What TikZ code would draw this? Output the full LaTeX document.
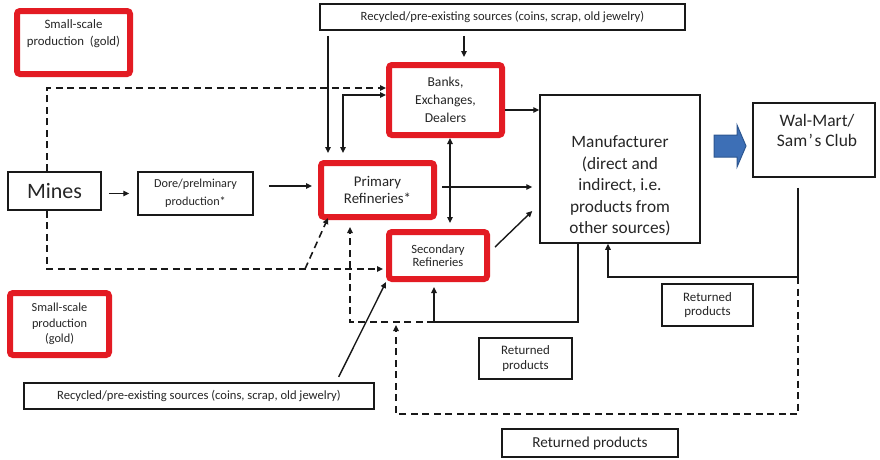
\documentclass[tikz,border=0pt]{standalone}
\usepackage{fontspec}
\setmainfont{Carlito}
\usetikzlibrary{arrows.meta,calc}
\definecolor{myred}{HTML}{E31B23}
\definecolor{txt}{HTML}{262626}
\definecolor{bluefill}{HTML}{3D6FB6}
\definecolor{blueline}{HTML}{2C5690}
\begin{document}
\begin{tikzpicture}[x=1pt,y=-1pt,
 redbox/.style={draw=myred, line width=6pt, rounded corners=3pt, fill=white, text=txt, align=center, inner sep=0pt},
 blkbox/.style={draw=black!90, line width=1.5pt, fill=white, text=txt, align=center, inner sep=0pt},
 arr/.style={-{Triangle[length=6pt,width=5.5pt]}, line width=1.4pt, draw=black!90},
 dbl/.style={{Triangle[length=6pt,width=5.5pt]}-{Triangle[length=6pt,width=5.5pt]}, line width=1.4pt, draw=black!90},
 dashln/.style={dash pattern=on 7pt off 4.5pt, line width=1.6pt, draw=black!90},
 fs/.style={font=\fontsize{12.6}{14}\selectfont},
]
\useasboundingbox (0,0) rectangle (880,459);

% boxes
\node[redbox, minimum width=113pt, minimum height=63pt,
  label={[font=\fontsize{12.8}{17}\selectfont, text=txt, align=center, yshift=9pt]center:Small-scale\\production~~(gold)}] (ss1) at (73.5,42.5) {};
\node[redbox, minimum width=99pt, minimum height=62pt, font=\fontsize{12.3}{15.5}\selectfont] (ss2) at (59.5,324) {Small-scale\\production\\(gold)};
\node[blkbox, minimum width=365pt, minimum height=26pt, font=\fontsize{12.6}{14}\selectfont] (rtop) at (502.5,17) {Recycled/pre-existing sources (coins, scrap, old jewelry)};
\node[redbox, minimum width=113pt, minimum height=70pt, font=\fontsize{13.6}{18}\selectfont] (banks) at (445.5,100) {Banks,\\Exchanges,\\Dealers};
\node[blkbox, minimum width=93pt, minimum height=38pt, font=\fontsize{22}{24}\selectfont] (mines) at (54.5,191) {Mines};
\node[blkbox, minimum width=115pt, minimum height=43pt, font=\fontsize{12.2}{18}\selectfont] (dore) at (195.5,193.5) {Dore/prelminary\\production*};
\node[redbox, minimum width=113pt, minimum height=54pt, font=\fontsize{14.8}{17}\selectfont] (prim) at (377.5,190) {Primary\\Refineries*};
\node[redbox, minimum width=98pt, minimum height=47pt, font=\fontsize{12.6}{13.5}\selectfont] (sec) at (438,255.5) {Secondary\\Refineries};
\node[blkbox, minimum width=160pt, minimum height=148pt,
  label={[font=\fontsize{17.3}{21.5}\selectfont, text=txt, align=center, yshift=-17pt]center:Manufacturer\\(direct and\\indirect, i.e.\\products from\\other sources)}] (manu) at (620,169) {};
\node[blkbox, minimum width=122pt, minimum height=74pt,
  label={[font=\fontsize{17.5}{20}\selectfont, text=txt, align=center, yshift=10pt, xshift=3pt]center:Wal-Mart/\\Sam\kern1.5pt’\kern1.5pt s Club}] (wm) at (814,140) {};
\node[blkbox, minimum width=91pt, minimum height=42pt, font=\fontsize{12.9}{14}\selectfont] (ret1) at (707.5,305) {Returned\\products};
\node[blkbox, minimum width=93pt, minimum height=41pt, font=\fontsize{12.9}{14.5}\selectfont] (ret2) at (525.5,358.5) {Returned\\products};
\node[blkbox, minimum width=176pt, minimum height=28pt, font=\fontsize{15.2}{16}\selectfont] (ret3) at (590,443) {Returned products};
\node[blkbox, minimum width=350pt, minimum height=26pt, font=\fontsize{12.6}{14}\selectfont] (rbot) at (199,396) {Recycled/pre-existing sources (coins, scrap, old jewelry)};

% blue block arrow
\fill[bluefill, draw=blueline, line width=1pt] (714,135) -- (737,135) -- (737,125) -- (746,146) -- (737,167) -- (737,157) -- (714,157) -- cycle;

% coordinates
\coordinate (bpc) at (343,95);
\coordinate (dtop) at (47,88);
\coordinate (dbot) at (47,269);
\coordinate (dg) at (305,269);
\coordinate (wr) at (798,277);
\coordinate (mr) at (608,277);
\coordinate (br) at (798,414);
\coordinate (bl) at (396,414);
\coordinate (bt) at (396,322);
\coordinate (m1) at (578,322);
\coordinate (m2) at (434,322);
\coordinate (p1) at (350,322);

% connectors
\draw[arr, shorten <=5pt, shorten >=5pt] (rtop.south -| 464,0) -- (banks.north -| 464,0);
\draw[arr, shorten <=5pt, shorten >=7pt] (rtop.south -| 328,0) -- (prim.north -| 328,0);
\draw[dbl, shorten >=7pt] (banks.west |- bpc) -- (bpc) -- (prim.north -| bpc);
\draw[dashln, -{Triangle[length=6pt,width=5.5pt]}] (mines.north -| dtop) -- (dtop) -- (banks.west |- dtop);
\draw[arr, shorten <=7pt, shorten >=8pt] (mines.east |- dore.west) -- (dore.west);
\draw[arr, shorten <=15pt, shorten >=6pt] (dore.east |- 0,186) -- (prim.west |- 0,186);
\draw[arr, shorten <=5pt, shorten >=7pt] (prim.east |- 0,187) -- (manu.west |- 0,187);
\draw[arr] (banks.east |- 0,110) -- (manu.west |- 0,110);
\draw[dbl, shorten >=6pt] (banks.south -| 450,0) -- (sec.north -| 450,0);
\draw[arr] ($(sec.east)+(5,-8.5)$) -- ($(manu.west)+(-7,42)$);
\draw[arr, shorten <=10pt] (wm.south -| wr) -- (wr) -- (mr) -- (manu.south -| mr);
\draw[dashln, -{Triangle[length=6pt,width=5.5pt]}, shorten >=3pt] (wr) -- (br) -- (bl) -- (bt);
\draw[arr, shorten >=5pt] (manu.south -| m1) -- (m1) -- (m2) -- (sec.south -| m2);
\draw[dashln, -{Triangle[length=6pt,width=5.5pt]}, shorten >=7pt] (m2) -- (p1) -- (prim.south -| p1);
\draw[dashln, -{Triangle[length=6pt,width=5.5pt]}, shorten >=3pt] (mines.south -| dbot) -- (dbot) -- (sec.west |- dbot);
\draw[dashln, -{Triangle[length=6pt,width=5.5pt]}] (dg) -- ($(prim.south west)+(10,-2)$);
\draw[arr, shorten <=6pt] (rbot.north -| 336,0) -- (sec.south west);
\end{tikzpicture}
\end{document}
